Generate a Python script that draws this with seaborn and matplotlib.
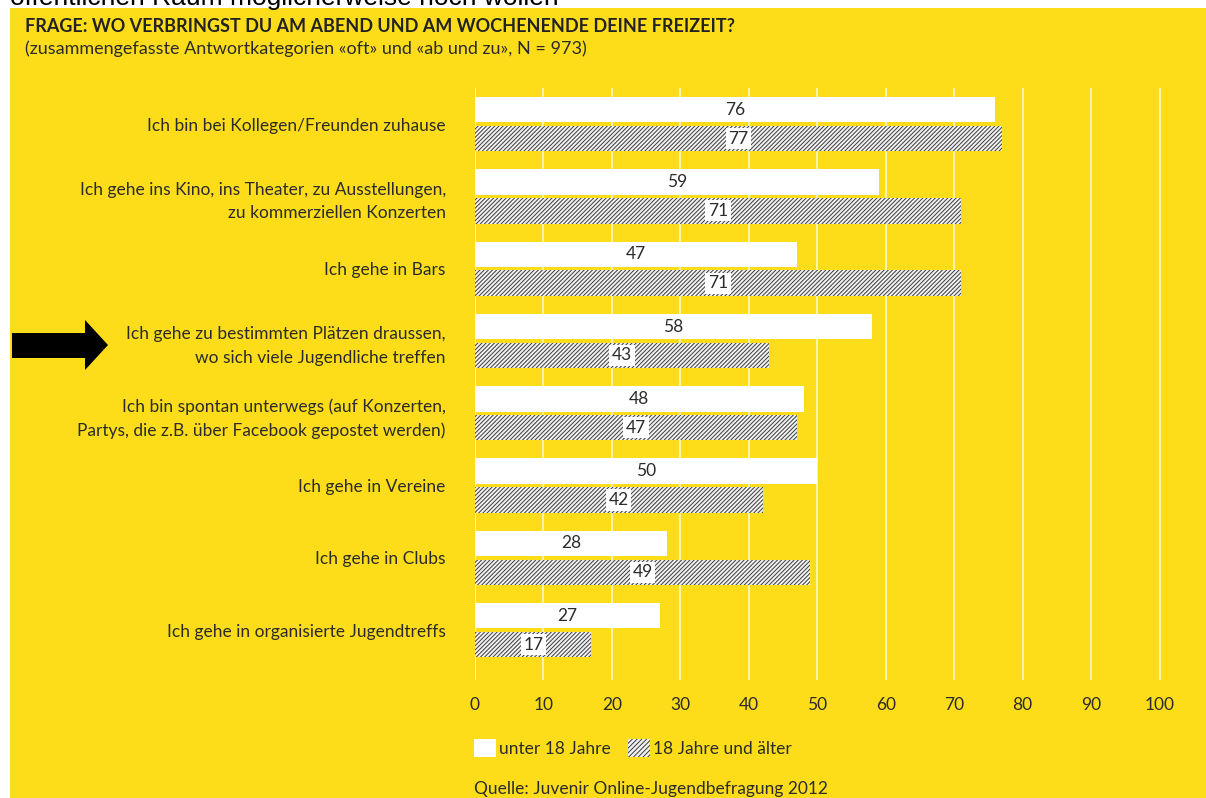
import numpy as np
import pandas as pd
import matplotlib
matplotlib.use("Agg")
import matplotlib.pyplot as plt
from matplotlib.patches import Patch, Polygon, Rectangle
import seaborn as sns

categories = [
    "Ich bin bei Kollegen/Freunden zuhause",
    "Ich gehe ins Kino, ins Theater, zu Ausstellungen,\nzu kommerziellen Konzerten",
    "Ich gehe in Bars",
    "Ich gehe zu bestimmten Plätzen draussen,\nwo sich viele Jugendliche treffen",
    "Ich bin spontan unterwegs (auf Konzerten,\nPartys, die z.B. über Facebook gepostet werden)",
    "Ich gehe in Vereine",
    "Ich gehe in Clubs",
    "Ich gehe in organisierte Jugendtreffs",
]
groups = ["unter 18 Jahre", "18 Jahre und älter"]
under18 = [76, 59, 47, 58, 48, 50, 28, 27]
over18 = [77, 71, 71, 43, 47, 42, 49, 17]
xticks = [0, 10, 20, 30, 40, 50, 60, 70, 80, 90, 100]

title = "FRAGE: WO VERBRINGST DU AM ABEND UND AM WOCHENENDE DEINE FREIZEIT?"
subtitle = "(zusammengefasste Antwortkategorien «oft» und «ab und zu», N = 973)"
source = "Quelle: Juvenir Online-Jugendbefragung 2012"
cut_line = "öffentlichen Raum möglicherweise noch wollen"

YELLOW = "#FDDD1A"
TXT = "#2b2b2b"
HATCH_COL = "#3a3a3a"
HATCH = "/" * 8

df = pd.DataFrame({
    "cat": categories * 2,
    "group": [groups[0]] * len(categories) + [groups[1]] * len(categories),
    "value": under18 + over18,
})

sns.set_theme(style="white")
plt.rcParams["font.family"] = ["Lato", "DejaVu Sans"]
plt.rcParams["hatch.linewidth"] = 0.7

W, H = 1206, 798
fig = plt.figure(figsize=(W / 100, H / 100), dpi=100)
fig.patch.set_facecolor("white")
fig.patches.append(Rectangle((10 / W, 0), 1 - 10 / W, 1 - 8 / H,
                             transform=fig.transFigure, facecolor=YELLOW,
                             edgecolor="none", zorder=-5))

ax_left, ax_right = 475 / W, 1163 / W
ax_top, ax_bot = 1 - 88 / H, 1 - 680 / H
ax = fig.add_axes([ax_left, ax_bot, ax_right - ax_left, ax_top - ax_bot])
ax.set_facecolor("none")
ax.set_zorder(2)

sns.barplot(data=df, y="cat", x="value", hue="group", orient="h",
            order=categories, hue_order=groups,
            palette=["white", "white"], saturation=1, width=0.8, gap=0.12,
            ax=ax, legend=False, zorder=3)

for bar in ax.containers[0]:
    bar.set_facecolor("white")
    bar.set_edgecolor("none")
    bar.set_linewidth(0)
for bar in ax.containers[1]:
    bar.set_facecolor("#f2f2f2")
    bar.set_edgecolor(HATCH_COL)
    bar.set_hatch(HATCH)
    bar.set_linewidth(0)

ax.bar_label(ax.containers[0], labels=[str(v) for v in under18],
             label_type="center", fontsize=12.5, color=TXT, zorder=5)
ax.bar_label(ax.containers[1], labels=[str(v) for v in over18],
             label_type="center", fontsize=12.5, color=TXT, zorder=5,
             bbox=dict(boxstyle="square,pad=0.15", facecolor="white",
                       edgecolor="none"))

ax.set_xlim(0, 100.5)
ax.set_ylim(len(categories) - 1 + 0.69, -0.5)
ax.set_xticks(xticks)
ax.set_xticklabels([str(t) for t in xticks])
ax.grid(axis="x", color="#fff6c0", linewidth=1.3, zorder=0)
ax.grid(axis="y", visible=False)
ax.set_axisbelow(True)
for s in ax.spines.values():
    s.set_visible(False)
ax.set_xlabel("")
ax.set_ylabel("")
ax.tick_params(axis="x", length=0, pad=12, labelsize=12.5, labelcolor=TXT)
ax.tick_params(axis="y", length=0, pad=21, labelsize=12.5, labelcolor=TXT)
for lab in ax.get_yticklabels():
    lab.set_linespacing(1.55)
    lab.set_horizontalalignment("right")

# Header texts
fig.text(25 / W, 1 - 27 / H, title, fontsize=13, fontweight="bold",
         color="#222222", va="center", ha="left")
fig.text(25 / W, 1 - 49 / H, subtitle, fontsize=13, color=TXT,
         va="center", ha="left")
fig.text(10 / W, 1 - 5 / H, cut_line, fontsize=19, color="black",
         family=["Liberation Sans", "DejaVu Sans"], va="baseline", ha="left")
fig.text(474 / W, 1 - 789 / H, source, fontsize=12.5, color=TXT,
         va="center", ha="left")

# Legend
handles = [
    Patch(facecolor="white", edgecolor="none", linewidth=0),
    Patch(facecolor="#f2f2f2", edgecolor=HATCH_COL, hatch="/" * 7, linewidth=0),
]
fig.legend(handles, groups, loc="center left",
           bbox_to_anchor=(474 / W, 1 - 748 / H), ncol=2, frameon=False,
           fontsize=12.5, labelcolor=TXT, handlelength=1.25,
           handleheight=1.3, handletextpad=0.2, columnspacing=1.0,
           borderpad=0, borderaxespad=0)

# Arrow pointing at highlighted category
arrow_px = [(12, 333), (85, 333), (85, 320), (108, 345), (85, 370), (85, 358), (12, 358)]
fig.patches.append(Polygon([(x / W, 1 - y / H) for x, y in arrow_px],
                           closed=True, transform=fig.transFigure,
                           facecolor="black", edgecolor="none", zorder=5))

fig.savefig("out.png", dpi=100, facecolor=fig.get_facecolor())
